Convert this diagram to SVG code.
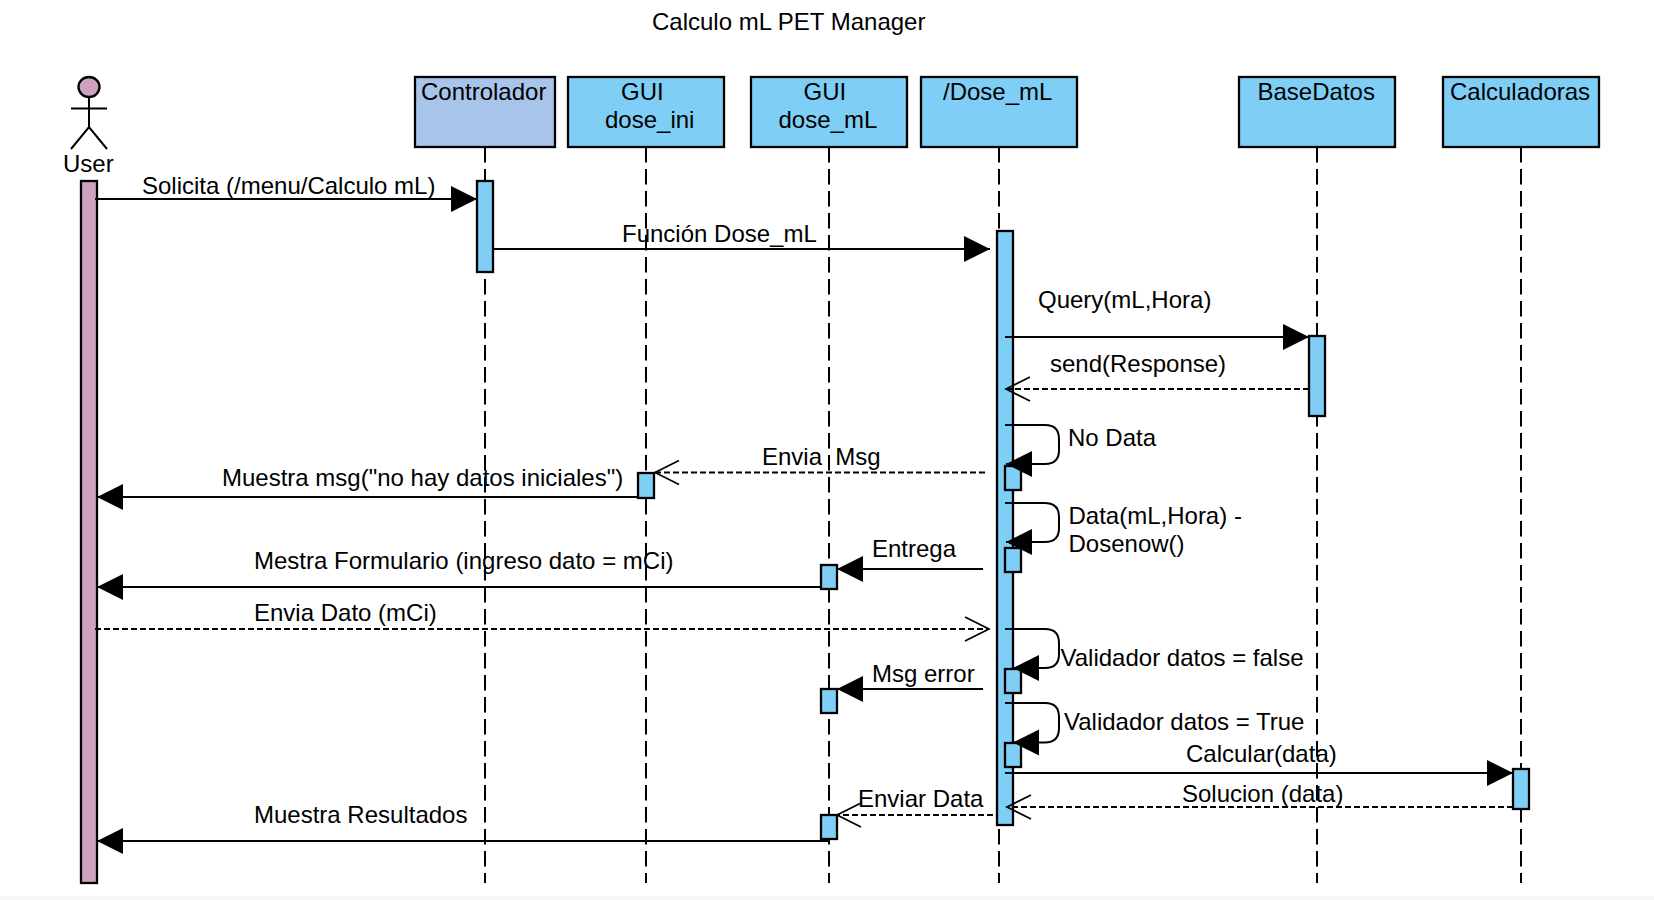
<svg xmlns="http://www.w3.org/2000/svg" width="1654" height="900" viewBox="0 0 1654 900">
<style>
text{font-family:"Liberation Sans",Arial,sans-serif;font-size:24px;fill:#000;white-space:pre}
.box{fill:#7FCEF5;stroke:#000;stroke-width:2.300}
.ctl{fill:#A9C4EB;stroke:#000;stroke-width:2.300}
.usr{fill:#CDA2BE;stroke:#000;stroke-width:2.300}
.life{fill:none;stroke:#000;stroke-width:2;stroke-dasharray:15.500 6.500}
.msg{fill:none;stroke:#000;stroke-width:2;marker-end:url(#solid)}
.ret{fill:none;stroke:#000;stroke-width:2;stroke-dasharray:6 3;marker-end:url(#open)}
</style>
<defs>
<marker id="solid" markerUnits="userSpaceOnUse" markerWidth="28" markerHeight="28" refX="26" refY="13" orient="auto" overflow="visible"><path d="M0,0L26,13L0,26Z" fill="#000"/></marker>
<marker id="open" markerUnits="userSpaceOnUse" markerWidth="26" markerHeight="26" refX="24" refY="12" orient="auto" overflow="visible"><path d="M0,0L24,12L0,24" fill="none" stroke="#000" stroke-width="1.700"/></marker>
</defs>
<rect width="1654" height="900" fill="#fff"/>
<rect y="896" width="1654" height="4" fill="#f6f6f6"/>
<text id="title" x="652" y="30">Calculo mL PET Manager</text>
<g id="user">
<ellipse class="usr" cx="89" cy="87" rx="10.500" ry="10"/>
<path d="M89,97V127M71,108.500H107M71,149L89,127L107,149" fill="none" stroke="#000" stroke-width="2"/>
<text x="63" y="172">User</text>
<rect class="usr" x="81" y="181" width="16" height="702"/>
</g>
<g id="controlador">
<path class="life" d="M485,147V883"/>
<rect class="ctl" x="415" y="77" width="140" height="70"/>
<text x="421" y="99.500">Controlador</text>
<rect class="box" x="477" y="181" width="16" height="91"/>
</g>
<g id="gui-dose-ini">
<path class="life" d="M646,147V883"/>
<rect class="box" x="568" y="77" width="156" height="70"/>
<text x="621" y="99.500">GUI</text>
<text x="605" y="127.500">dose_ini</text>
<rect class="box" x="638" y="473" width="16" height="25"/>
</g>
<g id="gui-dose-ml">
<path class="life" d="M829,147V883"/>
<rect class="box" x="751" y="77" width="156" height="70"/>
<text x="803.500" y="99.500">GUI</text>
<text x="778.500" y="127.500">dose_mL</text>
<rect class="box" x="821" y="565" width="16" height="24"/>
<rect class="box" x="821" y="689" width="16" height="24"/>
<rect class="box" x="821" y="815" width="16" height="24"/>
</g>
<g id="dose-ml">
<path class="life" d="M999,147V883"/>
<rect class="box" x="921" y="77" width="156" height="70"/>
<text x="943" y="99.500">/Dose_mL</text>
<rect class="box" x="997" y="231" width="16" height="594"/>
<rect class="box" x="1005" y="466" width="16" height="24"/>
<rect class="box" x="1005" y="548" width="16" height="24"/>
<rect class="box" x="1005" y="669" width="16" height="24"/>
<rect class="box" x="1005" y="743" width="16" height="24"/>
</g>
<g id="base-datos">
<path class="life" d="M1317,147V883"/>
<rect class="box" x="1239" y="77" width="156" height="70"/>
<text x="1257.500" y="99.500">BaseDatos</text>
<rect class="box" x="1309" y="336" width="16" height="80"/>
</g>
<g id="calculadoras">
<path class="life" d="M1521,147V883"/>
<rect class="box" x="1443" y="77" width="156" height="70"/>
<text x="1450" y="99.500">Calculadoras</text>
<rect class="box" x="1513" y="769" width="16" height="40"/>
</g>
<g id="connectors">
<path class="msg" d="M95,199H477"/>
<text x="142" y="193.500">Solicita (/menu/Calculo mL)</text>
<path class="msg" d="M492,249H990"/>
<text x="622" y="241.500">Función Dose_mL</text>
<path class="msg" d="M1005,337H1309"/>
<text x="1038" y="307.500">Query(mL,Hora)</text>
<path class="ret" d="M1309,389H1006"/>
<text x="1050" y="371.500">send(Response)</text>
<path class="msg" d="M1005,425H1045Q1059,425 1059,439V450Q1059,464 1045,464H1006"/>
<text x="1068" y="446">No Data</text>
<path class="ret" d="M985,472.500H655"/>
<text x="762" y="465">Envia  Msg</text>
<path class="msg" d="M637,497H97"/>
<text x="222" y="486">Muestra msg("no hay datos iniciales")</text>
<path class="msg" d="M1005,503H1045Q1059,503 1059,517V528Q1059,542 1045,542H1006"/>
<text x="1068.500" y="524">Data(mL,Hora) -</text>
<text x="1068.500" y="552">Dosenow()</text>
<path class="msg" d="M983,569H837"/>
<text x="872" y="557">Entrega</text>
<path class="msg" d="M821,587H97"/>
<text x="254" y="569">Mestra Formulario (ingreso dato = mCi)</text>
<path class="ret" d="M95,629H989"/>
<text x="254" y="621">Envia Dato (mCi)</text>
<path class="msg" d="M1005,629H1045Q1059,629 1059,643V654Q1059,668 1045,668H1013"/>
<text x="1060.500" y="666">Validador datos = false</text>
<path class="msg" d="M983,689H837"/>
<text x="872" y="682">Msg error</text>
<path class="msg" d="M1005,703H1045Q1059,703 1059,717V728Q1059,742.500 1045,742.500H1013"/>
<text x="1064" y="730">Validador datos = True</text>
<path class="msg" d="M1005,773H1513"/>
<text x="1186" y="762">Calcular(data)</text>
<path class="ret" d="M1513,807H1007"/>
<text x="1182" y="802">Solucion (data)</text>
<path class="ret" d="M993,815H837"/>
<text x="858" y="807">Enviar Data</text>
<path class="msg" d="M829,841H97"/>
<text x="254" y="823">Muestra Resultados</text>
</g>
</svg>
